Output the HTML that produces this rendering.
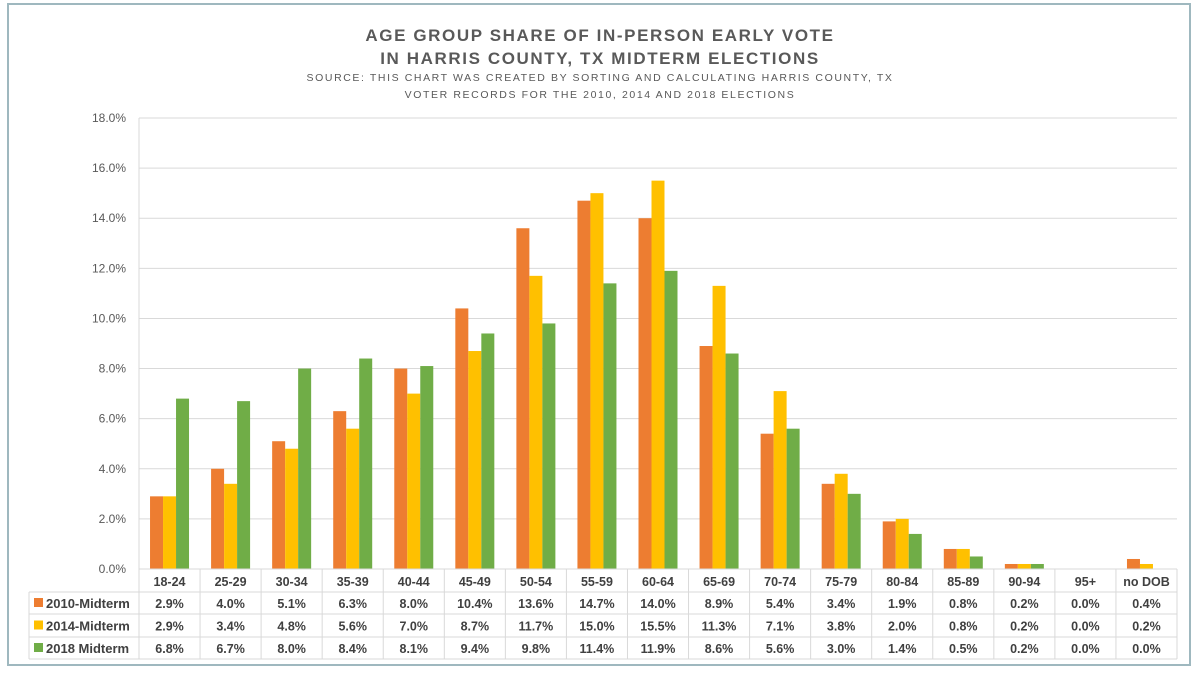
<!DOCTYPE html>
<html><head><meta charset="utf-8"><style>
body{margin:0;background:#fff;font-family:"Liberation Sans",sans-serif;}
svg text{font-family:"Liberation Sans",sans-serif;}
</style></head><body>
<svg id="c" width="1200" height="675" xmlns="http://www.w3.org/2000/svg">
<rect x="8" y="4" width="1182" height="661" fill="#fff" stroke="#9fb8bf" stroke-width="2"/>
<text x="600" y="41" text-anchor="middle" font-size="17" font-weight="bold" fill="#595959" letter-spacing="1.6">AGE GROUP SHARE OF IN-PERSON EARLY VOTE</text>
<text x="600" y="64" text-anchor="middle" font-size="17" font-weight="bold" fill="#595959" letter-spacing="1.6">IN HARRIS COUNTY, TX MIDTERM ELECTIONS</text>
<text x="600" y="81" text-anchor="middle" font-size="10.5" fill="#595959" letter-spacing="1.6">SOURCE: THIS CHART WAS CREATED BY SORTING AND CALCULATING HARRIS COUNTY, TX</text>
<text x="600" y="98" text-anchor="middle" font-size="10.5" fill="#595959" letter-spacing="1.6">VOTER RECORDS FOR THE 2010, 2014 AND 2018 ELECTIONS</text>
<g id="grid"></g><g id="bars"></g><g id="table"></g>
</svg>
<script>
const categories=["18-24","25-29","30-34","35-39","40-44","45-49","50-54","55-59","60-64","65-69","70-74","75-79","80-84","85-89","90-94","95+","no DOB"];
const seriesNames=["2010-Midterm","2014-Midterm","2018 Midterm"];
const s2010=[2.9,4.0,5.1,6.3,8.0,10.4,13.6,14.7,14.0,8.9,5.4,3.4,1.9,0.8,0.2,0.0,0.4];
const s2014=[2.9,3.4,4.8,5.6,7.0,8.7,11.7,15.0,15.5,11.3,7.1,3.8,2.0,0.8,0.2,0.0,0.2];
const s2018=[6.8,6.7,8.0,8.4,8.1,9.4,9.8,11.4,11.9,8.6,5.6,3.0,1.4,0.5,0.2,0.0,0.0];
const yTicks=[0,2,4,6,8,10,12,14,16,18];
const colors=["#ED7D31","#FFC000","#70AD47"];
const series=[s2010,s2014,s2018];
const NS="http://www.w3.org/2000/svg";
const L=139,R=1177,T=118,B=569,yMax=18;
const cw=(R-L)/categories.length;
const y=v=>B-(v/yMax)*(B-T);
const xc=i=>L+cw*(i+0.5);
function mk(tag,attrs,parent,txt){const e=document.createElementNS(NS,tag);for(const k in attrs)e.setAttribute(k,attrs[k]);if(txt!==undefined)e.textContent=txt;parent.appendChild(e);return e;}
const g=document.getElementById('grid');
yTicks.forEach(t=>{
 const ln=mk('line',{x1:L,x2:R,y1:y(t),y2:y(t),stroke:'#d9d9d9','stroke-width':1},g);
 
 
 const tx=mk('text',{x:126,y:y(t)+4,'text-anchor':'end','font-size':12,fill:'#595959'},g,t.toFixed(1)+'%');
 
 
});
const ax=mk('line',{x1:L,x2:L,y1:T,y2:B,stroke:'#d9d9d9'},g);


const bg=document.getElementById('bars');const bw=13;
series.forEach((s,si)=>s.forEach((v,i)=>{
 const r=mk('rect',{x:xc(i)-1.5*bw+si*bw,y:y(v),width:bw,height:B-y(v),fill:colors[si]},bg);
 
 
}));
const tg=document.getElementById('table');
const rows=[569,592,614,637,659];const TL=29;
rows.forEach((ry,ri)=>{const ln=mk('line',{x1:ri==0?L:TL,x2:R,y1:ry,y2:ry,stroke:'#d9d9d9'},tg);});
for(let i=0;i<=categories.length;i++){const ln=mk('line',{x1:L+i*cw,x2:L+i*cw,y1:569,y2:659,stroke:'#d9d9d9'},tg);}
const lv=mk('line',{x1:TL,x2:TL,y1:592,y2:659,stroke:'#d9d9d9'},tg);
categories.forEach((c,i)=>{const t=mk('text',{x:xc(i),y:586,'text-anchor':'middle','font-size':12.5,'font-weight':'bold',fill:'#404040'},tg,c);});
series.forEach((s,si)=>{
 const cy=(rows[si+1]+rows[si+2])/2;
 const sw=mk('rect',{x:34,y:cy-5,width:9,height:9,fill:colors[si]},tg);
 const lt=mk('text',{x:46,y:cy+5,'font-size':13,'font-weight':'bold',fill:'#404040'},tg,seriesNames[si]);
 s.forEach((v,i)=>{const t=mk('text',{x:xc(i),y:cy+5,'text-anchor':'middle','font-size':12.5,'font-weight':'bold',fill:'#404040'},tg,v.toFixed(1)+'%');});
});
</script>
</body></html>
